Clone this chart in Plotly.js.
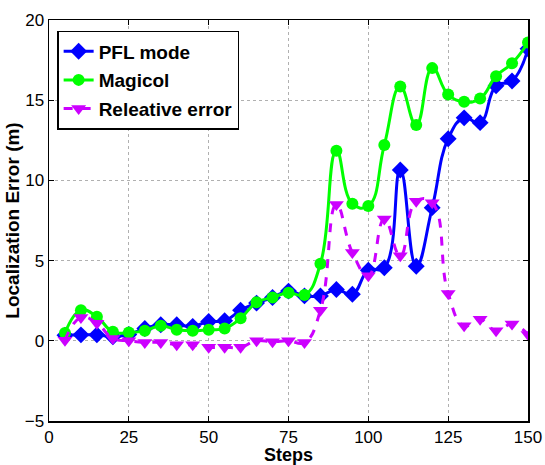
<!DOCTYPE html>
<html>
<head>
<meta charset="utf-8">
<script src="https://cdn.plot.ly/plotly-3.0.1.min.js"></script>
<style>html,body{margin:0;padding:0;background:#fff;}#chart{width:545px;height:465px;}</style>
</head>
<body>
<div id="chart"></div>
<script>
const steps = [5,10,15,20,25,30,35,40,45,50,55,60,65,70,75,80,85,90,95,100,105,110,115,120,125,130,135,140,145,150];
const pflMode = [0.35,0.37,0.37,0.25,0.4,0.77,1.0,1.0,0.9,1.2,1.25,1.9,2.35,2.7,3.1,2.8,2.8,3.2,2.9,4.4,4.55,10.65,4.65,8.3,12.6,13.9,13.6,15.9,16.2,18.2];
const magicol = [0.48,1.9,1.5,0.56,0.52,0.62,0.94,0.69,0.62,0.69,0.77,1.4,2.4,2.7,3.0,2.85,4.8,11.85,8.55,8.4,12.2,15.85,13.45,17.0,15.35,14.9,15.1,16.5,17.3,18.6];
const relError = [0.04,1.45,1.1,0.15,0.0,-0.1,-0.1,-0.25,-0.25,-0.4,-0.4,-0.4,0.0,-0.06,0.0,-0.1,1.9,8.5,5.5,4.05,7.6,5.3,8.7,8.6,2.95,0.94,1.35,0.62,1.04,0.4];
const xTicks = [0,25,50,75,100,125,150];
const yTicks = [-5,0,5,10,15,20];

const FONT = 'Liberation Sans, Arial, Helvetica, sans-serif';

const traces = [
  {x: steps, y: pflMode, name: 'PFL mode', mode: 'lines+markers', legendgroup: 'a',
   line: {color: '#0000ff', width: 3, shape: 'spline', smoothing: 1.3},
   marker: {symbol: 'diamond', size: 13, color: '#0000ff'}},
  {x: steps, y: magicol, name: 'Magicol', mode: 'lines+markers', legendgroup: 'b',
   line: {color: '#00ff00', width: 3, shape: 'spline', smoothing: 1.3},
   marker: {symbol: 'circle', size: 12, color: '#00ff00'}},
  {x: steps, y: relError, name: 'Releative error', mode: 'lines+markers', legendgroup: 'c',
   line: {color: '#cc00ff', width: 3, dash: 'dash', shape: 'spline', smoothing: 1.3},
   marker: {symbol: 'triangle-down', size: 13, color: '#cc00ff'}}
];

const axisCommon = {
  showline: true, linecolor: '#000', linewidth: 1.5, mirror: 'ticks',
  ticks: 'inside', ticklen: 5, tickcolor: '#000',
  showgrid: true, gridcolor: '#b0b0b0', griddash: 'dot', gridwidth: 1,
  zeroline: false,
  tickfont: {family: FONT, size: 17, color: '#000'}
};

const layout = {
  width: 545, height: 465,
  margin: {l: 49, r: 17, t: 20, b: 44},
  paper_bgcolor: '#fff', plot_bgcolor: '#fff',
  showlegend: true,
  xaxis: Object.assign({}, axisCommon, {
    range: [0, 150], tickvals: xTicks, ticktext: xTicks.map(String),
    title: {text: '<b>Steps</b>', standoff: 0,
      font: {family: FONT, size: 18, color: '#000'}}
  }),
  yaxis: Object.assign({}, axisCommon, {
    range: [-5, 20], tickvals: yTicks, ticktext: yTicks.map(v => v < 0 ? '\u2212' + Math.abs(v) : String(v)),
    title: {text: '<b>Localization Error (m)</b>', standoff: 0,
      font: {family: FONT, size: 19, color: '#000'}}
  }),
  legend: {
    x: 0.017, y: 0.973, xanchor: 'left', yanchor: 'top',
    bgcolor: '#fff', bordercolor: '#000', borderwidth: 1.5,
    font: {family: FONT, size: 19, color: '#000', weight: 'bold'},
    itemwidth: 30, traceorder: 'grouped', tracegroupgap: 1
  }
};

Plotly.newPlot('chart', traces, layout, {displayModeBar: false, staticPlot: true});
</script>
</body>
</html>
